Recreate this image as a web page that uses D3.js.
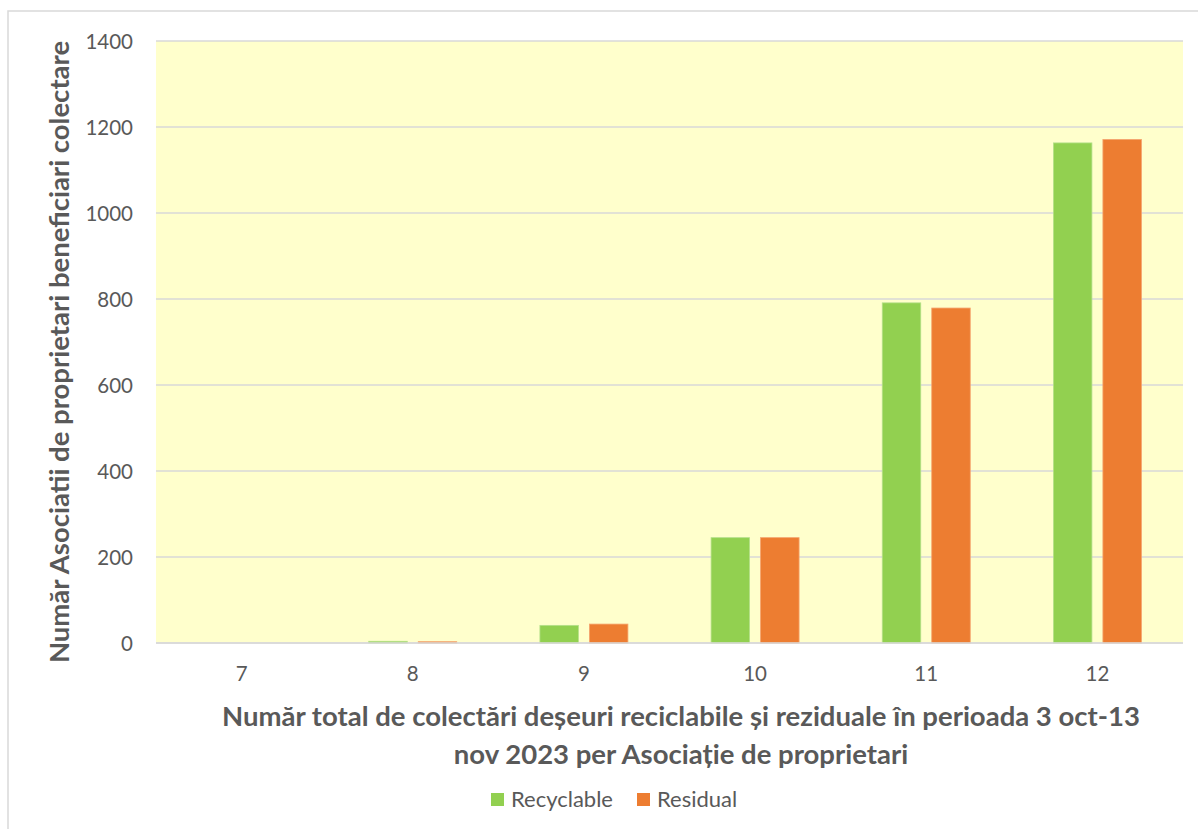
<!DOCTYPE html>
<html>
<head>
<meta charset="utf-8">
<script src="https://cdn.jsdelivr.net/npm/d3@7"></script>
<style>
  html, body { margin: 0; padding: 0; background: #ffffff; }
  svg { display: block; }
  text { font-family: Lato, "Open Sans", sans-serif; fill: #595959; }
</style>
</head>
<body>
<script>
const categories = ["7", "8", "9", "10", "11", "12"];
const seriesNames = ["Recyclable", "Residual"];
const recyclable = [0, 4, 41, 245, 791, 1163];
const residual = [0, 3, 44, 245, 779, 1171];
const yTicks = [0, 200, 400, 600, 800, 1000, 1200, 1400];
const xTitleLines = ["Număr total de colectări deșeuri reciclabile și reziduale în perioada 3 oct-13",
                     "nov 2023 per Asociație de proprietari"];
const yTitle = "Număr Asociatii de proprietari beneficiari colectare";
const colors = ["#92D050", "#ED7D31"];

const W = 1198, H = 829;
const plot = { left: 156, right: 1183, top: 41, bottom: 643 };

const svg = d3.select("body").append("svg").attr("width", W).attr("height", H);

// outer chart border
svg.append("rect").attr("x", 8).attr("y", 11).attr("width", W + 10).attr("height", H + 10)
  .attr("fill", "#ffffff").attr("stroke", "#D9D9D9").attr("stroke-width", 1.5);

const x0 = d3.scaleBand().domain(categories).range([plot.left, plot.right]).paddingInner(0).paddingOuter(0);
const x1 = d3.scaleBand().domain(seriesNames).range([-44, 44]).paddingInner(0.222).paddingOuter(0);
const y = d3.scaleLinear().domain([0, 1400]).range([plot.bottom, plot.top]);

// plot background
svg.append("rect").attr("x", plot.left).attr("y", plot.top)
  .attr("width", plot.right - plot.left).attr("height", plot.bottom - plot.top)
  .attr("fill", "#FFFFCC");

// gridlines
svg.append("g").selectAll("line").data(yTicks).join("line")
  .attr("x1", plot.left).attr("x2", plot.right)
  .attr("y1", d => y(d)).attr("y2", d => y(d))
  .attr("stroke", "#D9D9D9").attr("stroke-width", 1.5);

// y tick labels
const yAxis = d3.axisLeft(y).tickValues(yTicks).tickSize(0).tickPadding(0).tickFormat(d3.format("d"));
const gy = svg.append("g").attr("transform", `translate(133,0)`).call(yAxis);
gy.select(".domain").remove();
gy.selectAll("text").attr("font-size", 20.5).style("font-family", "Lato, 'Open Sans', sans-serif").attr("fill", "#595959").attr("dy", "0.36em");

// x labels
const xAxis = d3.axisBottom(x0).tickSize(0).tickPadding(0);
const gx = svg.append("g").attr("transform", `translate(0,${plot.bottom})`).call(xAxis);
gx.select(".domain").remove();
gx.selectAll("text").attr("font-size", 20.5).style("font-family", "Lato, 'Open Sans', sans-serif").attr("fill", "#595959").attr("y", 38).attr("dy", 0);

// bars
const data = categories.map((c, i) => ({ cat: c, vals: [recyclable[i], residual[i]] }));
const groups = svg.append("g").selectAll("g").data(data).join("g")
  .attr("transform", d => `translate(${x0(d.cat) + x0.bandwidth() / 2},0)`);
groups.selectAll("rect").data(d => d.vals.map((v, j) => ({ name: seriesNames[j], v, j })))
  .join("rect")
  .attr("x", d => x1(d.name))
  .attr("width", x1.bandwidth())
  .attr("y", d => y(d.v))
  .attr("height", d => Math.max(0, y(0) - y(d.v)))
  .attr("fill", d => colors[d.j])
  .attr("stroke", d => d.j === 0 ? "#B5E08A" : "#F4A46E")
  .attr("stroke-width", d => d.v > 0 ? 0.8 : 0);

// x axis line
svg.append("line").attr("x1", plot.left).attr("x2", plot.right)
  .attr("y1", plot.bottom).attr("y2", plot.bottom)
  .attr("stroke", "#D9D9D9").attr("stroke-width", 1.5);

// x title
svg.append("g").selectAll("text").data(xTitleLines).join("text")
  .attr("x", 681).attr("y", (d, i) => 726 + i * 38)
  .attr("text-anchor", "middle").attr("font-size", 27.5).attr("font-weight", "bold")
  .text(d => d);

// y title
svg.append("text")
  .attr("transform", `translate(69,352) rotate(-90)`)
  .attr("text-anchor", "middle").attr("font-size", 27.5).attr("font-weight", "bold")
  .text(yTitle);

// legend
const legendItems = [{ name: "Recyclable", x: 491 }, { name: "Residual", x: 637 }];
const lg = svg.append("g").selectAll("g").data(legendItems).join("g")
  .attr("transform", d => `translate(${d.x},793)`);
lg.append("rect").attr("width", 13).attr("height", 13).attr("fill", (d, i) => colors[i]);
lg.append("text").attr("x", 20).attr("y", 14).attr("font-size", 22).text(d => d.name);
</script>
</body>
</html>
